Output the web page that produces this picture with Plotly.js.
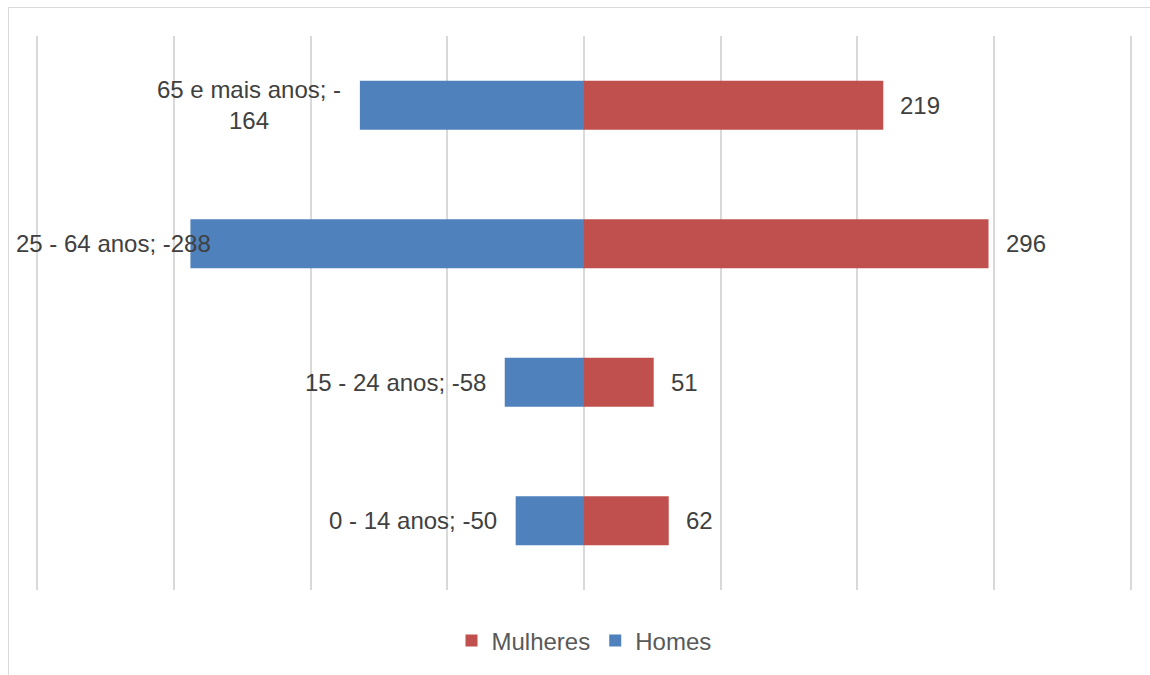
<!DOCTYPE html>
<html>
<head>
<meta charset="utf-8">
<script src="https://cdn.plot.ly/plotly-3.0.1.min.js"></script>
<style>
  html, body { margin: 0; padding: 0; background: #ffffff; }
  #wrap { position: relative; width: 1150px; height: 675px; }
  #chart { position: absolute; left: 0; top: 0; width: 1150px; height: 675px; }
  #frame { position: absolute; left: 8px; top: 7px; width: 1160px; height: 700px;
           border-top: 1px solid #d9d9d9; border-left: 1px solid #d9d9d9; pointer-events: none; }
</style>
</head>
<body>
<div id="wrap">
  <div id="chart"></div>
  <div id="frame"></div>
</div>
<script>
// Data
const categories = ["0 - 14 anos", "15 - 24 anos", "25 - 64 anos", "65 e mais anos"];
const homes = [-50, -58, -288, -164];
const mulheres = [62, 51, 296, 219];
const seriesNames = ["Mulheres", "Homes"];

const FONT = "Liberation Sans, Arial, sans-serif";
const xRange = [-401, 401];
const plotLeftPx = 36, plotWidthPx = 1096;
const fontSize = 24;

const traces = [
  {
    type: "bar", orientation: "h", name: seriesNames[0],
    y: categories, x: mulheres,
    marker: { color: "#C0504D" },
    hoverinfo: "x+y"
  },
  {
    type: "bar", orientation: "h", name: seriesNames[1],
    y: categories, x: homes,
    marker: { color: "#4F81BD" },
    hoverinfo: "x+y"
  }
];

const annotations = [];
// Mulheres labels: value to the right of bar end
mulheres.forEach((v, i) => {
  annotations.push({
    x: v, y: categories[i], xref: "x", yref: "y",
    text: String(v), showarrow: false,
    xanchor: "left", xshift: 15,
    font: { family: FONT, size: fontSize, color: "#404040" }
  });
});
// Homes labels: "category; value" to the left of bar end, clamped to the chart's left edge
homes.forEach((v, i) => {
  let text = categories[i] + "; " + v;
  // Excel wraps the long label
  if (text.length >= 20) {
    const idx = text.lastIndexOf("-");
    text = text.slice(0, idx + 1) + "<br>" + text.slice(idx + 1);
  }
  const longestLine = Math.max(...text.split("<br>").map(s => s.length));
  const estWidth = longestLine * fontSize * 0.45;
  const endPx = plotLeftPx + (v - xRange[0]) / (xRange[1] - xRange[0]) * plotWidthPx - 17;
  if (endPx - estWidth < 10) {
    annotations.push({
      x: xRange[0], y: categories[i], xref: "x", yref: "y",
      text: text, showarrow: false,
      xanchor: "left", xshift: -22, align: "left",
      font: { family: FONT, size: fontSize, color: "#404040" }
    });
  } else {
    annotations.push({
      x: v, y: categories[i], xref: "x", yref: "y",
      text: text, showarrow: false,
      xanchor: "right", xshift: -17, align: "center",
      font: { family: FONT, size: fontSize, color: "#404040" }
    });
  }
});

const layout = {
  width: 1150, height: 675,
  margin: { l: 36, r: 18, t: 36, b: 85, pad: 0 },
  paper_bgcolor: "#ffffff", plot_bgcolor: "#ffffff",
  barmode: "relative",
  bargap: 0.647,
  font: { family: FONT, size: fontSize, color: "#404040" },
  xaxis: {
    range: xRange, dtick: 100, tick0: 0,
    showgrid: true, gridcolor: "#D9D9D9", gridwidth: 2,
    zeroline: false, showticklabels: false, showline: false, ticks: "",
    fixedrange: true
  },
  yaxis: {
    type: "category", categoryorder: "array", categoryarray: categories,
    range: [-0.5, 3.5],
    showgrid: false, zeroline: false, showticklabels: false, showline: false, ticks: "",
    fixedrange: true
  },
  showlegend: true,
  legend: {
    orientation: "h", x: 0.5, xanchor: "center", y: -0.092, yanchor: "middle",
    font: { family: FONT, size: fontSize, color: "#595959" },
    itemwidth: 30, traceorder: "normal"
  },
  annotations: annotations
};

Plotly.newPlot("chart", traces, layout, { displayModeBar: false, staticPlot: true });
</script>
</body>
</html>
